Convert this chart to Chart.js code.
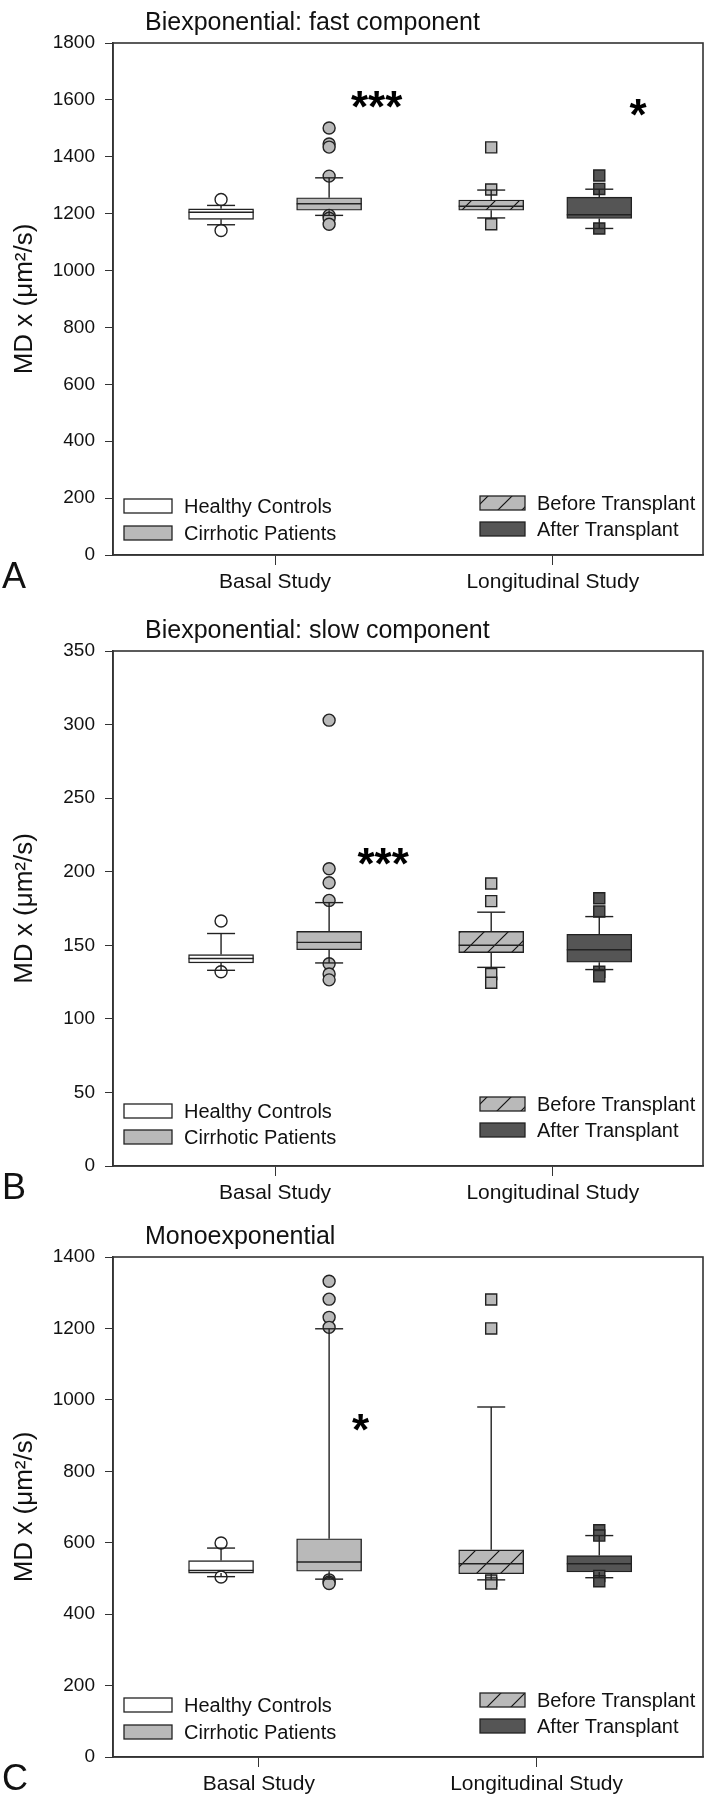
<!DOCTYPE html>
<html>
<head>
<meta charset="utf-8">
<title>MD box plots</title>
<script src="https://cdn.jsdelivr.net/npm/chart.js@4.4.0/dist/chart.umd.min.js"></script>
<style>
  body { margin: 0; background: #fff; }
  canvas { display: block; }
</style>
</head>
<body>
<canvas id="fast" width="723" height="600"></canvas>
<canvas id="slow" width="723" height="610"></canvas>
<canvas id="mono" width="723" height="590"></canvas>
<script>
// groups and x categories
const groupNames = ['Healthy Controls', 'Cirrhotic Patients', 'Before Transplant', 'After Transplant'];
const groupX = [1, 2, 3.5, 4.5];
const studyLabels = ['Basal Study', 'Longitudinal Study'];

// A: biexponential, fast component
const fastLow = [1161, 1194, 1185, 1148];
const fastQ1 = [1180, 1212, 1212, 1183];
const fastMedian = [1205, 1235, 1226, 1196];
const fastQ3 = [1217, 1256, 1248, 1258];
const fastHigh = [1229, 1326, 1283, 1286];
const fastOutliers = [[1250, 1141], [1501, 1445, 1434, 1332, 1194, 1184, 1163], [1433, 1285, 1163], [1334, 1287, 1148]];
const fastStars = [{ x: 2.44, y: 1609, text: '***' }, { x: 4.86, y: 1581, text: '*' }];

// B: biexponential, slow component
const slowLow = [133, 138, 135, 133.5];
const slowQ1 = [138, 147, 145, 138.5];
const slowMedian = [141, 152, 150, 147];
const slowQ3 = [143.7, 159.5, 159.5, 157.5];
const slowHigh = [158, 179, 172.5, 169.5];
const slowOutliers = [[166.5, 132], [303, 202, 192.5, 180.5, 137.5, 130.5, 126.5], [192, 180, 130.5, 124.5], [182, 173, 132, 129]];
const slowStars = [{ x: 2.5, y: 212, text: '***' }];

// C: monoexponential
const monoLow = [505, 498, 496, 502];
const monoQ1 = [515, 520, 513, 518];
const monoMedian = [522, 546, 541, 541];
const monoQ3 = [550, 611, 580, 564];
const monoHigh = [585, 1199, 980, 620];
const monoOutliers = [[599, 504], [1332, 1282, 1231, 1203, 496, 490, 486], [1281, 1200, 494, 486], [635, 620, 507, 492]];
const monoStars = [{ x: 2.29, y: 943, text: '*' }];

const INK = '#222';
const WHITE = '#ffffff';
const GRAY = '#b9b9b9';
const DARK = '#555555';
const FONT = '"Liberation Sans", Arial, sans-serif';

Chart.defaults.font.family = FONT;
Chart.defaults.color = '#111';

function makeHatch() {
  const c = document.createElement('canvas');
  c.width = 24; c.height = 24;
  const g = c.getContext('2d');
  g.fillStyle = GRAY;
  g.fillRect(0, 0, 24, 24);
  g.strokeStyle = '#111';
  g.lineWidth = 1.2;
  g.beginPath();
  g.moveTo(0, 24); g.lineTo(24, 0);
  g.moveTo(-3, 3); g.lineTo(3, -3);
  g.moveTo(21, 27); g.lineTo(27, 21);
  g.stroke();
  return g.createPattern(c, 'repeat');
}
const hatch = makeHatch();
const boxFills = [WHITE, GRAY, hatch, DARK];
const pointFills = [WHITE, GRAY, GRAY, DARK];

const panels = [
  { id: 'fast', title: 'Biexponential: fast component', letter: 'A', max: 1800, step: 200,
    low: fastLow, q1: fastQ1, med: fastMedian, q3: fastQ3, high: fastHigh, out: fastOutliers, stars: fastStars,
    studyX: [1.5, 4.07], padTop: 43, axisH: 45, legL: [-49, -22], legR: [-52, -26] },
  { id: 'slow', title: 'Biexponential: slow component', letter: 'B', max: 350, step: 50,
    low: slowLow, q1: slowQ1, med: slowMedian, q3: slowQ3, high: slowHigh, out: slowOutliers, stars: slowStars,
    studyX: [1.5, 4.07], padTop: 51, axisH: 44, legL: [-55, -29], legR: [-62, -36] },
  { id: 'mono', title: 'Monoexponential', letter: 'C', max: 1400, step: 200,
    low: monoLow, q1: monoQ1, med: monoMedian, q3: monoQ3, high: monoHigh, out: monoOutliers, stars: monoStars,
    studyX: [1.35, 3.92], padTop: 47, axisH: 43, legL: [-52, -25], legR: [-57, -31] }
];

function line(ctx, x1, y1, x2, y2) {
  ctx.beginPath();
  ctx.moveTo(x1, y1);
  ctx.lineTo(x2, y2);
  ctx.stroke();
}

function makeDecor(p) {
  return {
    id: 'decor',
    afterDatasetsDraw(chart) {
      const { ctx, scales: { x, y } } = chart;
      const bars = chart.getDatasetMeta(1).data;
      ctx.save();
      ctx.strokeStyle = INK;
      ctx.lineWidth = 1.4;
      p.med.forEach((m, i) => {
        const cx = x.getPixelForValue(groupX[i]);
        const half = bars[i].width / 2;
        const yHi = y.getPixelForValue(p.high[i]);
        const yLo = y.getPixelForValue(p.low[i]);
        line(ctx, cx, y.getPixelForValue(p.q3[i]), cx, yHi);
        line(ctx, cx, y.getPixelForValue(p.q1[i]), cx, yLo);
        line(ctx, cx - 14, yHi, cx + 14, yHi);
        line(ctx, cx - 14, yLo, cx + 14, yLo);
        const ym = y.getPixelForValue(m);
        line(ctx, cx - half, ym, cx + half, ym);
      });
      ctx.restore();
    },
    afterDraw(chart) {
      const { ctx, chartArea: a, scales: { x, y } } = chart;
      ctx.save();
      // frame
      ctx.strokeStyle = '#333';
      ctx.lineWidth = 1.6;
      ctx.strokeRect(a.left, a.top, a.right - a.left, a.bottom - a.top);
      // significance stars
      ctx.fillStyle = '#000';
      ctx.textAlign = 'center';
      ctx.textBaseline = 'alphabetic';
      ctx.font = 'bold 44px ' + FONT;
      p.stars.forEach(s => {
        ctx.fillText(s.text, x.getPixelForValue(s.x), y.getPixelForValue(s.y) + 25);
      });
      // title and panel letter
      ctx.fillStyle = '#111';
      ctx.textAlign = 'left';
      ctx.font = '25px ' + FONT;
      ctx.fillText(p.title, a.left + 32, a.top - 13);
      ctx.font = '36px ' + FONT;
      ctx.fillText(p.letter, 2, a.bottom + 33);
      // legend
      ctx.font = '20px ' + FONT;
      ctx.textBaseline = 'middle';
      ctx.lineWidth = 1.3;
      ctx.strokeStyle = INK;
      const swatch = (bx, cy, w, fill, label) => {
        ctx.fillStyle = fill;
        ctx.fillRect(bx, cy - 7, w, 14);
        ctx.strokeRect(bx, cy - 7, w, 14);
        ctx.fillStyle = '#111';
        ctx.fillText(label, bx + w + 12, cy + 1);
      };
      swatch(a.left + 11, a.bottom + p.legL[0], 48, boxFills[0], groupNames[0]);
      swatch(a.left + 11, a.bottom + p.legL[1], 48, boxFills[1], groupNames[1]);
      swatch(a.right - 223, a.bottom + p.legR[0], 45, boxFills[2], groupNames[2]);
      swatch(a.right - 223, a.bottom + p.legR[1], 45, boxFills[3], groupNames[3]);
      ctx.restore();
    }
  };
}

panels.forEach(p => {
  const pts = [], styles = [], fills = [], radii = [];
  p.out.forEach((vals, g) => {
    vals.forEach(v => {
      pts.push({ x: groupX[g], y: v });
      styles.push(g < 2 ? 'circle' : 'rect');
      fills.push(pointFills[g]);
      radii.push(g < 2 ? 6 : 7.8);
    });
  });

  new Chart(document.getElementById(p.id), {
    type: 'bar',
    data: {
      datasets: [
        {
          type: 'scatter',
          label: 'outliers',
          order: 1,
          data: pts,
          pointStyle: styles,
          pointRadius: radii,
          pointBackgroundColor: fills,
          pointBorderColor: INK,
          pointBorderWidth: 1.4
        },
        {
          type: 'bar',
          label: 'boxes',
          order: 2,
          data: groupX.map((gx, i) => ({ x: gx, y: [p.q1[i], p.q3[i]] })),
          backgroundColor: boxFills,
          borderColor: INK,
          borderWidth: 1.4,
          borderSkipped: false,
          barThickness: 65
        }
      ]
    },
    options: {
      responsive: false,
      animation: false,
      events: [],
      layout: { padding: { top: p.padTop, right: 20, bottom: 0, left: 0 } },
      plugins: { legend: { display: false }, tooltip: { enabled: false }, title: { display: false } },
      scales: {
        x: {
          type: 'linear',
          min: 0,
          max: 5.46,
          offset: false,
          afterFit: s => { s.height = p.axisH; },
          afterBuildTicks: s => { s.ticks = p.studyX.map(v => ({ value: v })); },
          ticks: {
            autoSkip: false,
            maxRotation: 0,
            padding: 5,
            font: { size: 21 },
            color: '#111',
            callback: (v, i) => studyLabels[i]
          },
          grid: { drawOnChartArea: false, tickLength: 10, color: '#333', offset: false },
          border: { color: '#333', width: 1.6 }
        },
        y: {
          min: 0,
          max: p.max,
          afterFit: s => { s.width = 113; },
          ticks: { stepSize: p.step, padding: 10, font: { size: 19 }, color: '#111', callback: v => String(v) },
          grid: { drawOnChartArea: false, tickLength: 8, color: '#333' },
          border: { color: '#333', width: 1.6 },
          title: {
            display: true,
            text: 'MD x (μm²/s)',
            font: { family: FONT, size: 26 },
            color: '#111',
            padding: { top: 9, bottom: 0 }
          }
        }
      }
    },
    plugins: [makeDecor(p)]
  });
});
</script>
</body>
</html>
